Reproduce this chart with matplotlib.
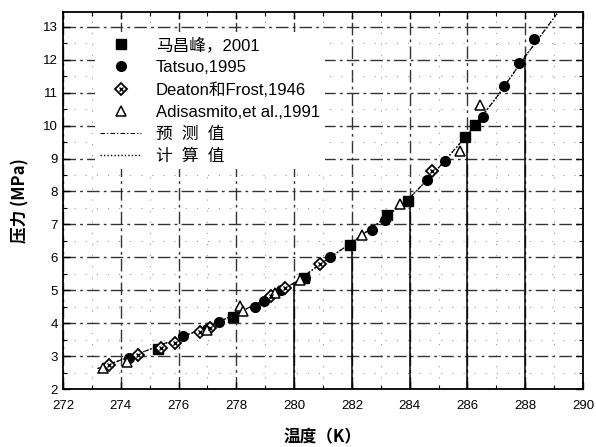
import numpy as np
import matplotlib
matplotlib.use("Agg")
import matplotlib.pyplot as plt
from matplotlib.legend_handler import HandlerTuple

plt.rcParams['font.family'] = ['Liberation Sans', 'Noto Sans CJK SC', 'DejaVu Sans']

# ---- data ----
ma_T = [275.3, 277.87, 280.34, 281.92, 283.23, 283.95, 285.92, 286.27]
ma_P = [3.23, 4.19, 5.37, 6.38, 7.29, 7.72, 9.65, 10.02]

tatsuo_T = [274.3, 276.17, 276.98, 277.39, 278.66, 278.97, 279.53, 280.39, 281.23,
            282.71, 283.13, 284.61, 285.22, 286.54, 287.25, 287.79, 288.29]
tatsuo_P = [2.95, 3.61, 3.82, 4.02, 4.48, 4.68, 5.00, 5.38, 6.01,
            6.82, 7.14, 8.35, 8.91, 10.27, 11.19, 11.89, 12.62]

deaton_T = [273.6, 274.6, 275.4, 275.88, 276.75, 277.1, 279.2, 279.7, 280.91, 284.76]
deaton_P = [2.72, 3.04, 3.25, 3.40, 3.73, 3.86, 4.82, 5.07, 5.80, 8.62]

adis_T = [273.4, 274.2, 277.0, 278.14, 278.23, 279.35, 280.2, 282.36, 283.65, 285.75, 286.44]
adis_P = [2.65, 2.83, 3.78, 4.52, 4.38, 4.92, 5.32, 6.67, 7.62, 9.22, 10.64]

curve_T = [273.2, 274, 275, 276, 277, 278, 279, 280, 281, 282, 283, 284,
           285, 286, 287, 288, 289.1]
pred_P = [2.62, 2.88, 3.20, 3.55, 3.88, 4.28, 4.72, 5.22, 5.85, 6.45, 7.10, 7.80,
          8.72, 9.72, 10.85, 12.10, 13.40]
calc_P = [2.62, 2.88, 3.20, 3.55, 3.88, 4.28, 4.72, 5.22, 5.85, 6.45, 7.10, 7.80,
          8.72, 9.72, 10.85, 12.10, 13.40]

xticks = [272, 274, 276, 278, 280, 282, 284, 286, 288, 290]
yticks = [2, 3, 4, 5, 6, 7, 8, 9, 10, 11, 12, 13]
drop_T = [280, 282, 284, 286, 288]

labels = ['马昌峰，2001', 'Tatsuo,1995', 'Deaton和Frost,1946',
          'Adisasmito,et al.,1991', '预  测  值', '计  算  值']

# ---- figure ----
fig = plt.figure(figsize=(5.96, 4.47), dpi=100)
ax = fig.add_axes([63/596, 58/447, 520/596, 377/447])
ax.set_xlim(272, 290)
ax.set_ylim(2, 13.45)

# grid
ax.set_xticks(xticks)
ax.set_yticks(yticks)
ax.set_xticks(np.arange(273, 290, 2), minor=True)
ax.set_yticks(np.arange(2.5, 13.5, 1), minor=True)
ax.grid(True, which='major', color='#333333', linestyle=(0, (9, 3, 2, 3)), linewidth=1.0)
ax.grid(True, which='minor', color='#999999', linestyle=(0, (1, 9)), linewidth=0.8)

# drop lines from axis to curve
for t in drop_T:
    top = np.interp(t, curve_T, calc_P)
    ax.plot([t, t], [2, top], color='black', linewidth=1.1, zorder=2)

# curves
l_pred, = ax.plot(curve_T, pred_P, color='black', linestyle=(0, (4, 2, 1, 2)), linewidth=0.8, zorder=3)
l_calc, = ax.plot(curve_T, calc_P, color='black', linestyle=(0, (1, 1.5)), linewidth=1.0, zorder=3)

# markers
h_ma, = ax.plot(ma_T, ma_P, 's', color='black', markersize=6.5, linestyle='none', zorder=5)
h_ta, = ax.plot(tatsuo_T, tatsuo_P, 'o', color='black', markersize=7, linestyle='none', zorder=5)
h_de1, = ax.plot(deaton_T, deaton_P, 'D', mfc='white', mec='black', mew=1.3,
                 markersize=6.5, linestyle='none', zorder=6)
h_de2, = ax.plot(deaton_T, deaton_P, 'x', color='black', mew=1.0,
                 markersize=3.5, linestyle='none', zorder=7)
h_ad, = ax.plot(adis_T, adis_P, '^', mfc='white', mec='black', mew=1.1,
                markersize=7, linestyle='none', zorder=6)

leg = ax.legend([h_ma, h_ta, (h_de1, h_de2), h_ad, l_pred, l_calc], labels,
                handler_map={tuple: HandlerTuple(ndivide=1)},
                loc='upper left', bbox_to_anchor=(0.045, 0.968), frameon=True,
                facecolor='white', edgecolor='none', framealpha=1.0, fancybox=False,
                borderpad=0.3,
                handlelength=2.5, handletextpad=0.85, labelspacing=0.42,
                prop={'family': ['Liberation Sans', 'Noto Sans CJK SC'], 'size': 12})

# ticks
ax.tick_params(which='both', direction='in', top=True, right=True, colors='black')
ax.tick_params(which='major', length=5, width=1.0, labelsize=9.5)
ax.tick_params(which='minor', length=3, width=0.8)
ax.tick_params(axis='x', which='major', pad=8)
for s in ax.spines.values():
    s.set_linewidth(1.3)
    s.set_zorder(10)

ax.set_xlabel('温度（K）', fontsize=12, fontweight='bold',
              family=['Noto Sans CJK SC', 'DejaVu Sans'], labelpad=12)
ax.set_ylabel('压力 (MPa)', fontsize=12, fontweight='bold',
              family=['Noto Sans CJK SC', 'DejaVu Sans'], labelpad=10)

fig.savefig('out.png', dpi=100)
